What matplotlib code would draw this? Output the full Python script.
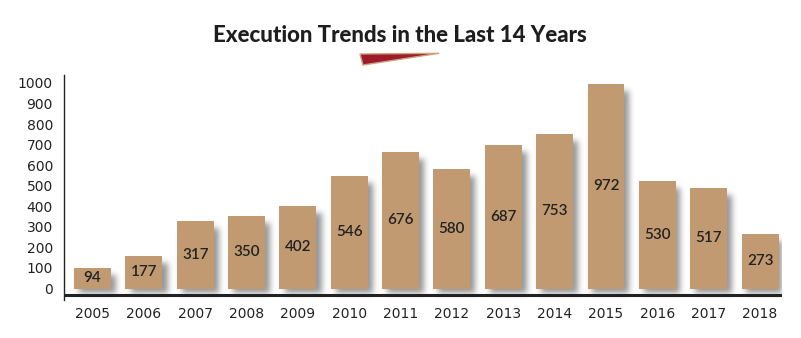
import matplotlib
matplotlib.use("Agg")
import matplotlib.pyplot as plt
from matplotlib.patches import Polygon
import numpy as np

years = ["2005", "2006", "2007", "2008", "2009", "2010", "2011",
         "2012", "2013", "2014", "2015", "2016", "2017", "2018"]
bar_heights = [100, 158, 328, 353, 401, 547, 664, 582, 698, 752, 995, 523, 489, 265]
bar_labels = ["94", "177", "317", "350", "402", "546", "676",
              "580", "687", "753", "972", "530", "517", "273"]
yticks = [0, 100, 200, 300, 400, 500, 600, 700, 800, 900, 1000]

W, H = 801, 338
fig = plt.figure(figsize=(W / 100, H / 100), dpi=100)
fig.patch.set_facecolor("white")

FONT = "Lato"
TICKFONT = "DejaVu Sans"
TXT = "#222222"
BAR = "#C29A72"

# axes in pixel geometry
ax_l, ax_r, ax_t, ax_b = 64, 782, 75, 300
ax = fig.add_axes([ax_l / W, (H - ax_b) / H, (ax_r - ax_l) / W, (ax_b - ax_t) / H])

px_per_unit = 20.55 / 100.0
y0_px = 288.5
ymin = (y0_px - ax_b) / px_per_unit
ymax = (y0_px - ax_t) / px_per_unit
x0_px, dx_px = 92.5, 51.35
xmin = (ax_l - x0_px) / dx_px
xmax = (ax_r - x0_px) / dx_px
ax.set_xlim(xmin, xmax)
ax.set_ylim(ymin, ymax)

x = np.arange(len(years))
bw = 0.72

# blurred drop shadow rendered as an image in data space
nx, ny = (ax_r - ax_l), (ax_b - ax_t)
gx = np.linspace(xmin, xmax, nx)
gy = np.linspace(ymin, ymax, ny)
XX, YY = np.meshgrid(gx, gy)
mask = np.zeros((ny, nx))
offx = 5.0 / dx_px
offy = 5.0 / px_per_unit
for xi, h in zip(x, bar_heights):
    inside = ((XX >= xi - bw / 2 + offx) & (XX <= xi + bw / 2 + offx) &
              (YY >= -offy) & (YY <= h - offy * 1.4))
    mask[inside] = 1.0
sig = 3.0
k = np.arange(-10, 11)
kern = np.exp(-k ** 2 / (2 * sig ** 2))
kern /= kern.sum()
blur = np.apply_along_axis(lambda r: np.convolve(r, kern, mode="same"), 1, mask)
blur = np.apply_along_axis(lambda c: np.convolve(c, kern, mode="same"), 0, blur)
rgba = np.zeros((ny, nx, 4))
rgba[..., 0:3] = 0.25
rgba[..., 3] = blur * 0.55
ax.imshow(rgba, extent=(xmin, xmax, ymin, ymax), origin="lower",
          aspect="auto", zorder=1, interpolation="bilinear")

ax.bar(x, bar_heights, width=bw, color=BAR, zorder=2, linewidth=0)

for xi, h, lab in zip(x, bar_heights, bar_labels):
    ax.text(xi, h / 2, lab, ha="center", va="center", fontsize=11,
            fontfamily=FONT, fontweight="semibold", color=TXT, zorder=3)

# x axis line
ax.axhline((y0_px - 295) / px_per_unit, xmin=0, xmax=1, color=TXT, lw=2.2, zorder=4)

for s in ["top", "right", "bottom"]:
    ax.spines[s].set_visible(False)
ax.spines["left"].set_color(TXT)
ax.spines["left"].set_linewidth(1.0)
ax.spines["left"].set_zorder(5)

ax.set_yticks(yticks)
ax.set_yticklabels([str(v) for v in yticks], fontfamily=TICKFONT, fontsize=10, color=TXT)
ax.set_xticks(x)
ax.set_xticklabels(years, fontfamily=TICKFONT, fontsize=10, color=TXT)
ax.tick_params(axis="y", length=0, pad=8)
ax.tick_params(axis="x", length=0, pad=5)

# title
fig.text(399.5 / W, 1 - 36 / H, "Execution Trends in the Last 14 Years",
         ha="center", va="center", fontsize=16, fontfamily=FONT,
         fontweight="black", color="#1e1e1e")

# red wedge decoration
wedge = Polygon([(360 / W, 1 - 54 / H), (439 / W, 1 - 53.3 / H), (363 / W, 1 - 65 / H)],
                closed=True, transform=fig.transFigure, facecolor="#9E1B2B",
                edgecolor="#C9A47C", linewidth=1.0)
fig.patches.append(wedge)

fig.savefig("out.png", dpi=100, facecolor="white")
